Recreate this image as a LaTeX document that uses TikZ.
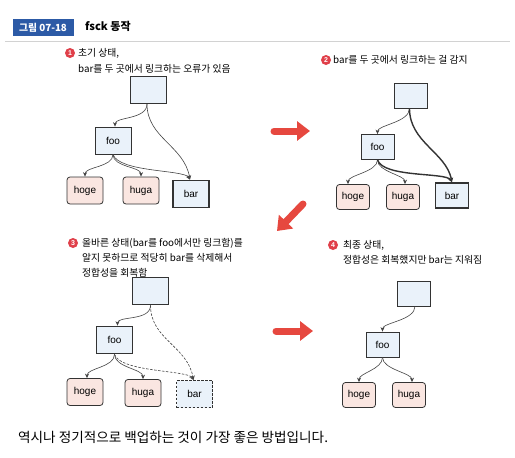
\documentclass[tikz,border=0pt]{standalone}
\usepackage{fontspec}
\setmainfont{Noto Sans CJK KR}
\newfontfamily\lat{Liberation Sans}
\usetikzlibrary{arrows.meta}
\definecolor{boxblue}{HTML}{EAF2FA}
\definecolor{pinkfill}{HTML}{FAE6E1}
\definecolor{edgecol}{HTML}{333333}
\definecolor{linkcol}{HTML}{444444}
\definecolor{headblue}{HTML}{2C5AA6}
\definecolor{bigred}{HTML}{E6483F}
\definecolor{numred}{HTML}{E0404A}
\begin{document}
\begin{tikzpicture}[x=1pt,y=-1pt,
  fsbox/.style={draw=edgecol, fill=boxblue, line width=0.8pt, minimum width=36pt, minimum height=27pt, inner sep=0pt, font=\lat\fontsize{10}{11}\selectfont},
  smallbox/.style={minimum width=33pt, minimum height=25pt},
  filebox/.style={fsbox, fill=pinkfill, rounded corners=3pt},
  thickbox/.style={line width=1.7pt},
  gonebox/.style={dash pattern=on 2.5pt off 1.5pt, line width=0.9pt},
  link/.style={draw=linkcol, line width=0.6pt, -{Stealth[length=4.5pt,width=4pt]}},
  badlink/.style={link, line width=1.4pt, draw=edgecol},
  gonelink/.style={link, dash pattern=on 2.5pt off 1.5pt},
  numc/.style={circle, fill=numred, text=white, inner sep=0pt, minimum size=10pt, font=\lat\bfseries\fontsize{7}{8}\selectfont},
  captext/.style={anchor=west, inner sep=0pt, font=\fontsize{9.8}{11}\selectfont},
  bigarrow/.style={draw=bigred, line width=7pt, line cap=round, -{Triangle[length=13pt,width=19pt]}}
]
\useasboundingbox[fill=white] (0,0) rectangle (515,458);

% header
\node[fill=headblue, text=white, font=\bfseries\fontsize{9.8}{11}\selectfont, minimum width=61pt, minimum height=17pt, inner sep=0pt] (hd) at (43,27.5) {그림 07-18};
\node[anchor=west, inner sep=0pt, font=\bfseries\fontsize{11}{12}\selectfont] (ht) at (85,26) {fsck 동작};
\draw[gray!35, line width=0.8pt] (5,41) -- (510,41);

% ---------- panel 1 ----------
\node[numc] (n1) at (70,53) {1};
\node[captext] (c1a) at (78,53) {초기 상태,};
\node[captext] (c1b) at (78,69) {bar를 두 곳에서 링크하는 오류가 있음};
\node[fsbox] (t1) at (148,90) {};
\node[fsbox] (f1) at (113,140.5) {foo};
\node[filebox] (h1) at (85,190.5) {hoge};
\node[filebox] (u1) at (141,190.5) {huga};
\node[fsbox, thickbox] (b1) at (191,194) {bar};
\draw[link] ([xshift=-1pt]t1.south) .. controls +(0,16) and +(0,-10) .. ([xshift=2pt]f1.north);
\draw[link] ([xshift=-1pt]t1.south) .. controls +(0,34) and +(-6,-34) .. ([xshift=-1pt]b1.north);
\draw[link] (f1.south) .. controls +(0,13) and +(0,-10) .. (h1.north);
\draw[link] (f1.south) .. controls +(0,13) and +(0,-10) .. (u1.north);
\draw[link] (f1.south) .. controls +(6,18) and +(-6,-10) .. ([xshift=-1pt]b1.north);

% ---------- panel 2 ----------
\node[numc] (n2) at (326,60) {2};
\node[captext] (c2a) at (333,60) {bar를 두 곳에서 링크하는 걸 감지};
\node[fsbox, smallbox] (t2) at (410.5,95.5) {};
\node[fsbox, smallbox] (f2) at (377.5,147) {foo};
\node[filebox, smallbox] (h2) at (353,197) {hoge};
\node[filebox, smallbox] (u2) at (403,197) {huga};
\node[fsbox, smallbox, thickbox] (b2) at (452,195.5) {bar};
\draw[link] ([xshift=-1pt]t2.south) .. controls +(0,14) and +(0,-9) .. (f2.north);
\draw[badlink] ([xshift=-1pt]t2.south) .. controls +(0,34) and +(-6,-30) .. (b2.north);
\draw[link] (f2.south) .. controls +(0,12) and +(0,-9) .. ([xshift=-5pt]h2.north);
\draw[link] (f2.south) .. controls +(0,12) and +(0,-9) .. ([xshift=2pt]u2.north);
\draw[badlink] (f2.south) .. controls +(6,18) and +(-6,-10) .. (b2.north);

% ---------- panel 3 ----------
\node[numc] (n3) at (73,243) {3};
\node[captext] (c3a) at (82,243) {올바른 상태(bar를 foo에서만 링크함)를};
\node[captext] (c3b) at (82,258) {알지 못하므로 적당히 bar를 삭제해서};
\node[captext] (c3c) at (82,273) {정합성을 회복함};
\node[fsbox, thickbox] (t3) at (150.5,291) {};
\node[fsbox, thickbox] (f3) at (114.5,340) {foo};
\node[filebox] (h3) at (85,392) {hoge};
\node[filebox] (u3) at (143,393) {huga};
\node[fsbox, gonebox] (b3) at (194.5,394) {bar};
\draw[link] (t3.south) .. controls +(0,16) and +(0,-10) .. ([xshift=3pt]f3.north);
\draw[gonelink] (t3.south) .. controls +(0,34) and +(-6,-34) .. ([xshift=-1pt]b3.north);
\draw[link] (f3.south) .. controls +(0,13) and +(0,-10) .. ([xshift=2pt]h3.north);
\draw[link] (f3.south) .. controls +(0,13) and +(0,-10) .. (u3.north);
\draw[gonelink] (f3.south) .. controls +(6,18) and +(-6,-10) .. ([xshift=-1pt]b3.north);

% ---------- panel 4 ----------
\node[numc] (n4) at (333,245) {4};
\node[captext] (c4a) at (343,245) {최종 상태,};
\node[captext] (c4b) at (343,260) {정합성은 회복했지만 bar는 지워짐};
\node[fsbox, smallbox] (t4) at (414,293.5) {};
\node[fsbox, smallbox] (f4) at (382.5,344.5) {foo};
\node[filebox, smallbox] (h4) at (359,395) {hoge};
\node[filebox, smallbox] (u4) at (409,395) {huga};
\draw[link] ([xshift=1pt]t4.south) .. controls +(0,14) and +(0,-9) .. (f4.north);
\draw[link] (f4.south) .. controls +(0,12) and +(0,-9) .. (h4.north);
\draw[link] (f4.south) .. controls +(0,12) and +(0,-9) .. ([xshift=3pt]u4.north);

% ---------- red arrows ----------
\coordinate (a1s) at (274,131);
\coordinate (a1e) at (310,131);
\coordinate (a2s) at (303,204);
\coordinate (a2e) at (277,231);
\coordinate (a3s) at (276,331);
\coordinate (a3e) at (313,331);
\draw[bigarrow] (a1s) -- (a1e);
\draw[bigarrow] (a2s) -- (a2e);
\draw[bigarrow] (a3s) -- (a3e);

% ---------- footer ----------
\node[anchor=west, inner sep=0pt, font=\fontsize{13.6}{15}\selectfont] (foot) at (18,437) {역시나 정기적으로 백업하는 것이 가장 좋은 방법입니다.};
\end{tikzpicture}
\end{document}
